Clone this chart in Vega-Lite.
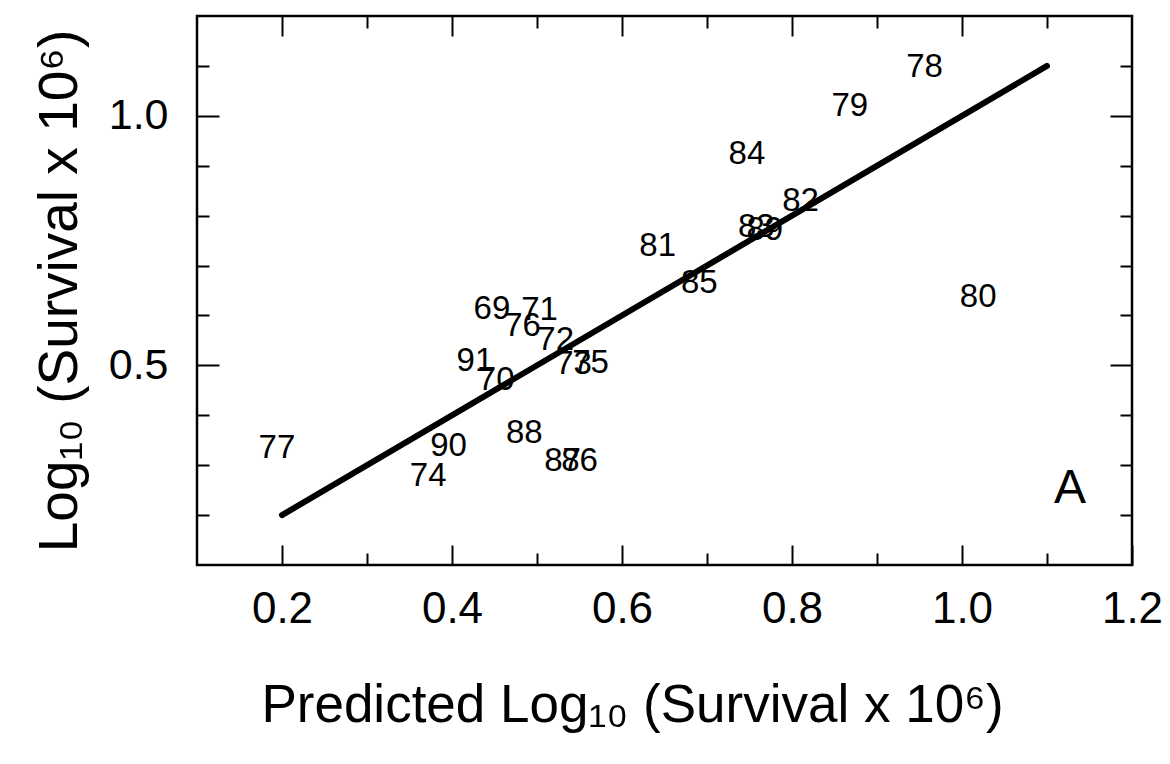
{
  "$schema": "https://vega.github.io/schema/vega-lite/v6.json",
  "width": 935,
  "height": 549,
  "autosize": {"type": "none"},
  "padding": {"left": 197, "top": 16, "right": 38, "bottom": 199},
  "background": "white",
  "config": {
    "font": "Liberation Sans",
    "view": {"stroke": "black", "strokeWidth": 2.5},
    "axis": {"grid": false, "domain": false, "tickColor": "black", "tickWidth": 2, "labelColor": "black", "titleColor": "black", "titleFontWeight": "normal", "labelOverlap": false, "labelFlush": false}
  },
  "datasets": {
    "years": [
      {"pred": 0.956, "obs": 1.098, "year": "78"},
      {"pred": 0.868, "obs": 1.020, "year": "79"},
      {"pred": 0.747, "obs": 0.924, "year": "84"},
      {"pred": 0.810, "obs": 0.829, "year": "82"},
      {"pred": 0.768, "obs": 0.771, "year": "89"},
      {"pred": 0.758, "obs": 0.777, "year": "83"},
      {"pred": 0.642, "obs": 0.739, "year": "81"},
      {"pred": 0.691, "obs": 0.665, "year": "85"},
      {"pred": 1.019, "obs": 0.637, "year": "80"},
      {"pred": 0.447, "obs": 0.612, "year": "69"},
      {"pred": 0.503, "obs": 0.610, "year": "71"},
      {"pred": 0.483, "obs": 0.578, "year": "76"},
      {"pred": 0.522, "obs": 0.550, "year": "72"},
      {"pred": 0.427, "obs": 0.508, "year": "91"},
      {"pred": 0.543, "obs": 0.502, "year": "73"},
      {"pred": 0.563, "obs": 0.504, "year": "75"},
      {"pred": 0.452, "obs": 0.470, "year": "70"},
      {"pred": 0.194, "obs": 0.335, "year": "77"},
      {"pred": 0.396, "obs": 0.339, "year": "90"},
      {"pred": 0.372, "obs": 0.279, "year": "74"},
      {"pred": 0.485, "obs": 0.365, "year": "88"},
      {"pred": 0.530, "obs": 0.309, "year": "87"},
      {"pred": 0.550, "obs": 0.309, "year": "86"}
    ],
    "fit": [
      {"pred": 0.2, "obs": 0.2},
      {"pred": 1.1, "obs": 1.1}
    ],
    "panel": [
      {"pred": 1.127, "obs": 0.253, "tag": "A"}
    ]
  },
  "layer": [
    {
      "data": {"name": "years"},
      "mark": {"type": "text", "fontSize": 33, "color": "black", "align": "center", "baseline": "middle"},
      "encoding": {
        "x": {
          "field": "pred", "type": "quantitative",
          "scale": {"domain": [0.1, 1.2], "nice": false, "zero": false},
          "axis": {
            "orient": "bottom",
            "values": [0.2, 0.3, 0.4, 0.5, 0.6, 0.7, 0.8, 0.9, 1.0, 1.1, 1.2],
            "labelExpr": "round(datum.value * 10) % 2 == 0 ? format(datum.value, '.1f') : ''",
            "tickSize": {"condition": {"test": "round(datum.value * 10) % 2 == 0", "value": -20}, "value": -12},
            "labelFontSize": 44,
            "labelPadding": 42,
            "title": "Predicted Log₁₀ (Survival x 10⁶)",
            "titleFontSize": 53,
            "titlePadding": 40,
            "titleX": 435
          }
        },
        "y": {
          "field": "obs", "type": "quantitative",
          "scale": {"domain": [0.1, 1.2], "nice": false, "zero": false},
          "axis": {
            "orient": "left",
            "values": [0.2, 0.3, 0.4, 0.5, 0.6, 0.7, 0.8, 0.9, 1.0, 1.1],
            "labelExpr": "round(datum.value * 10) % 5 == 0 ? format(datum.value, '.1f') : ''",
            "tickSize": {"condition": {"test": "round(datum.value * 10) % 5 == 0", "value": -22}, "value": -12},
            "labelFontSize": 43,
            "labelPadding": 51,
            "title": "Log₁₀ (Survival x 10⁶)",
            "titleFontSize": 55,
            "titlePadding": 20
          }
        },
        "text": {"field": "year"}
      }
    },
    {
      "data": {"name": "fit"},
      "mark": {"type": "line", "color": "black", "strokeWidth": 6, "strokeCap": "round"},
      "encoding": {
        "x": {
          "field": "pred", "type": "quantitative",
          "scale": {"domain": [0.1, 1.2], "nice": false, "zero": false},
          "axis": {
            "orient": "top",
            "values": [0.2, 0.3, 0.4, 0.5, 0.6, 0.7, 0.8, 0.9, 1.0, 1.1],
            "labels": false,
            "tickSize": {"condition": {"test": "round(datum.value * 10) % 2 == 0", "value": -20}, "value": -12},
            "title": null
          }
        },
        "y": {
          "field": "obs", "type": "quantitative",
          "scale": {"domain": [0.1, 1.2], "nice": false, "zero": false},
          "axis": {
            "orient": "right",
            "values": [0.2, 0.3, 0.4, 0.5, 0.6, 0.7, 0.8, 0.9, 1.0, 1.1],
            "labels": false,
            "tickSize": {"condition": {"test": "round(datum.value * 10) % 5 == 0", "value": -22}, "value": -12},
            "title": null
          }
        }
      }
    },
    {
      "data": {"name": "panel"},
      "mark": {"type": "text", "fontSize": 48, "color": "black", "align": "center", "baseline": "middle"},
      "encoding": {
        "x": {"field": "pred", "type": "quantitative", "scale": {"domain": [0.1, 1.2], "nice": false, "zero": false}, "axis": null},
        "y": {"field": "obs", "type": "quantitative", "scale": {"domain": [0.1, 1.2], "nice": false, "zero": false}, "axis": null},
        "text": {"field": "tag"}
      }
    }
  ],
  "resolve": {"axis": {"x": "independent", "y": "independent"}}
}
